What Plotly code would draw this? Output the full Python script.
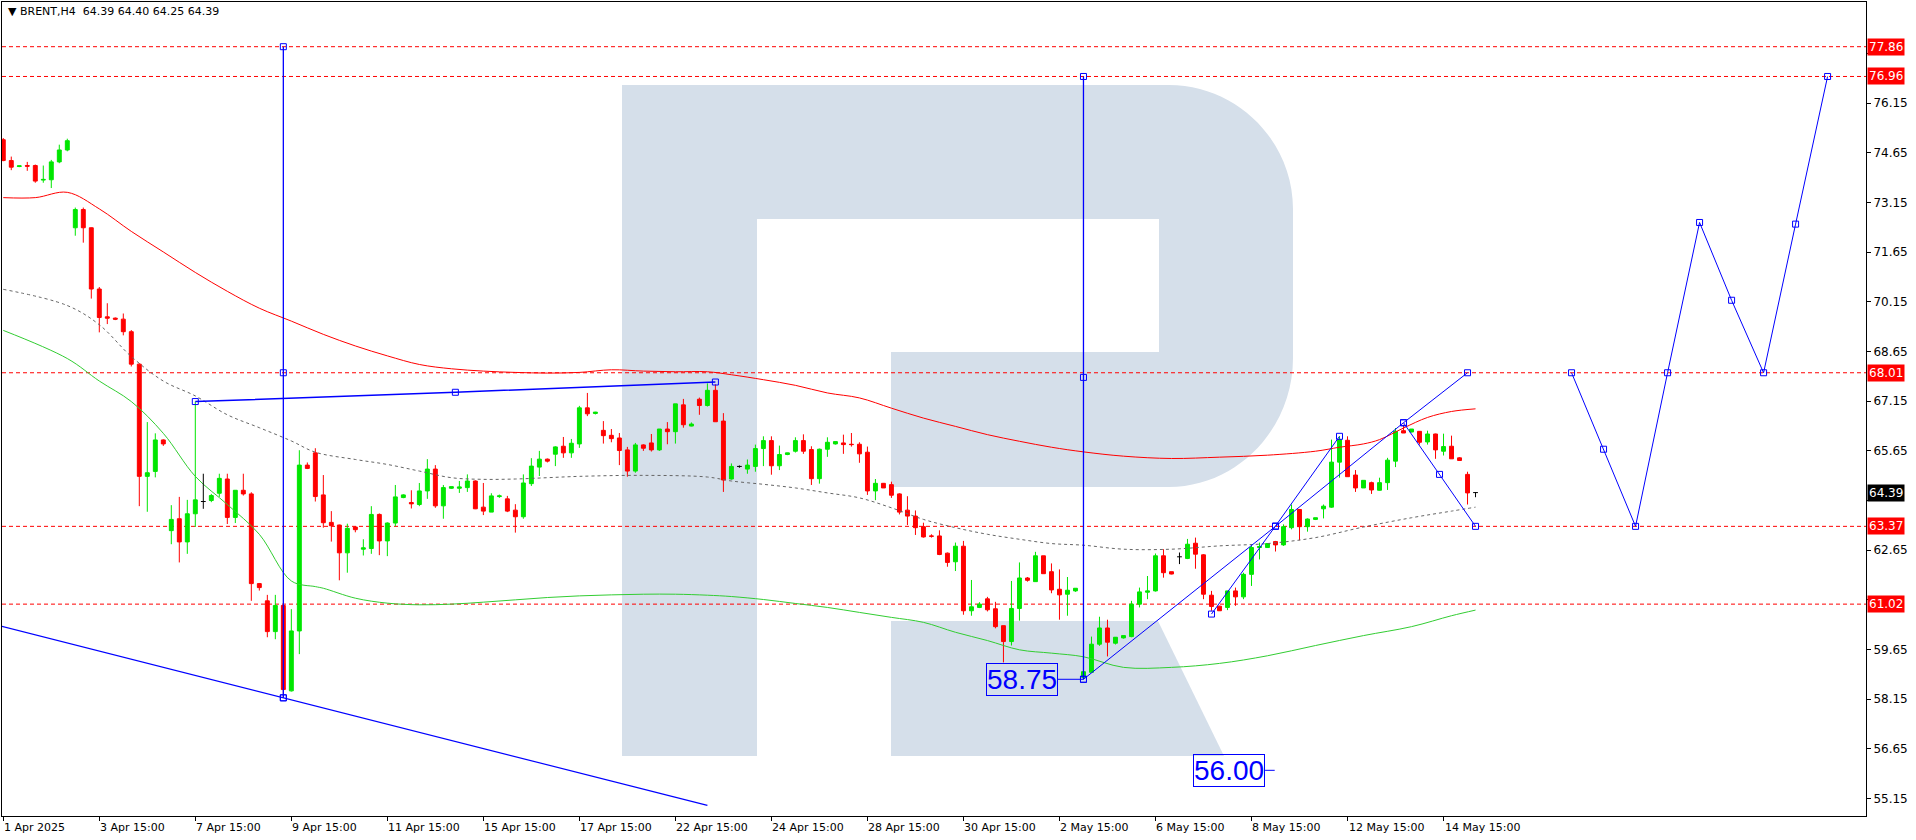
import plotly.graph_objects as go
import math

# ---------------- data ----------------
opens = [75.05,74.42,74.24,74.27,74.27,73.83,73.84,74.38,74.74,72.39,72.94,72.39,70.54,69.70,69.66,69.63,69.25,68.27,64.88,65.03,
65.98,63.24,63.60,62.90,63.75,64.12,64.15,64.37,64.80,63.64,64.46,64.35,61.64,61.12,60.19,60.98,58.40,60.21,65.22,65.59,
64.32,63.49,63.41,62.57,63.35,62.68,62.70,63.73,62.93,63.47,64.24,64.09,64.03,64.44,65.10,63.99,64.52,64.52,64.54,64.74,
63.95,63.80,64.27,64.20,63.86,63.66,64.66,65.16,65.40,65.55,65.79,65.59,65.86,66.95,66.78,66.27,66.12,66.04,65.68,65.04,
65.83,65.89,65.68,66.31,66.23,67.04,66.40,67.21,67.02,67.48,66.55,64.80,65.18,65.10,65.18,65.72,65.96,65.20,65.54,65.64,
65.96,65.69,64.81,65.70,65.86,65.89,65.85,65.85,65.61,64.44,64.67,64.63,64.35,63.86,63.68,63.36,63.08,63.08,62.56,62.30,
62.77,60.82,60.92,61.18,60.88,60.37,59.89,60.89,61.81,61.70,62.48,62.00,61.47,61.32,61.42,58.81,58.96,59.81,60.30,59.84,
60.00,60.04,61.02,61.38,61.42,62.48,62.00,62.45,62.40,62.86,62.51,61.29,60.96,60.92,61.42,61.24,61.92,62.73,62.73,62.91,
62.81,63.33,63.88,63.36,63.58,63.90,63.95,65.31,65.97,64.92,64.53,64.69,64.46,64.69,65.34,66.26,66.22,66.24,65.92,66.16,
65.64,65.79,65.44,64.94,64.39]
highs = [75.10,74.54,74.26,74.38,74.30,74.27,74.44,74.90,75.08,73.00,73.00,72.40,70.60,70.11,69.68,69.80,69.30,68.30,66.52,66.18,
66.00,64.01,64.26,64.17,67.14,64.96,64.35,64.96,64.96,64.46,64.96,64.40,61.66,61.30,61.30,61.00,60.87,65.67,65.30,65.73,
64.92,63.83,63.42,63.45,63.37,62.98,63.98,63.76,63.49,64.62,64.34,64.46,64.68,65.40,65.22,64.62,64.57,64.74,64.94,64.76,
64.68,64.37,64.33,64.29,64.04,64.94,65.43,65.65,65.42,65.79,66.07,66.01,67.01,67.40,66.83,66.55,66.31,66.19,65.77,65.89,
65.85,66.16,66.31,66.52,67.07,67.22,66.51,67.26,67.69,67.66,66.79,65.27,65.21,65.39,65.84,66.09,66.09,65.81,65.57,66.06,
66.15,65.79,65.72,66.06,65.93,66.14,66.19,65.91,65.78,64.80,64.68,64.72,64.37,64.28,63.85,63.48,63.13,63.25,62.58,62.88,
62.93,61.75,61.08,61.24,61.09,60.37,61.72,62.28,61.84,62.60,62.48,62.25,62.07,61.84,61.50,59.00,60.04,60.64,60.55,59.98,
60.07,61.12,61.52,61.87,62.55,62.68,62.00,62.58,62.99,63.03,62.53,61.42,60.97,61.42,61.52,61.97,62.78,62.88,62.85,62.93,
63.43,64.03,63.89,63.61,63.63,64.03,65.99,66.09,66.09,65.07,64.76,64.72,64.84,65.44,66.34,66.44,66.31,66.25,66.26,66.17,
66.17,66.11,65.46,65.02,64.40]
lows = [74.40,74.13,74.22,74.11,73.75,73.75,73.59,74.34,74.70,72.15,71.94,70.25,69.23,69.48,69.60,69.14,68.20,63.98,63.81,64.85,
65.80,62.83,62.28,62.54,63.35,63.90,64.10,64.26,63.44,63.47,64.30,61.12,61.43,60.02,59.96,58.20,58.38,59.51,65.10,64.12,
63.33,62.91,61.74,61.97,63.19,62.49,62.54,62.50,62.47,63.37,64.22,63.91,63.98,64.20,63.93,63.60,64.50,64.38,64.41,63.89,
63.71,63.80,64.23,63.80,63.18,63.60,64.59,64.89,65.30,65.19,65.44,65.44,65.74,66.70,66.75,65.87,65.91,65.22,64.87,64.99,
65.65,65.63,65.65,65.85,65.87,66.35,66.39,66.74,66.99,66.53,64.41,64.78,65.14,64.96,65.02,65.19,64.93,65.07,65.52,65.60,
65.56,64.62,64.66,65.47,65.84,65.56,65.78,65.29,64.32,64.16,64.53,64.23,63.73,63.41,63.11,63.03,63.03,62.50,62.15,62.02,
60.70,60.67,60.90,60.80,60.29,59.26,59.77,60.52,61.70,61.70,61.94,61.35,60.55,60.67,61.39,58.75,58.96,59.76,59.44,59.80,
59.98,60.02,60.92,61.17,61.40,61.82,61.92,62.23,62.38,62.09,61.17,60.82,60.82,60.84,60.97,61.17,61.57,62.37,62.72,62.61,
62.78,63.28,62.95,63.21,63.56,63.61,63.93,64.84,64.87,64.41,64.53,64.35,64.45,64.47,65.16,66.19,66.21,65.84,65.84,65.41,
65.51,65.41,65.35,64.03,64.25]
closes = [74.42,74.22,74.26,74.25,73.80,73.85,74.38,74.74,75.02,72.94,72.39,70.54,69.68,69.66,69.63,69.25,68.27,64.88,64.99,65.98,
65.86,63.58,62.90,63.75,64.17,64.12,64.30,64.82,63.64,64.46,64.35,61.64,61.52,60.19,60.98,58.44,60.21,65.22,65.12,64.27,
63.48,63.39,62.57,63.31,63.27,62.72,63.73,62.93,63.47,64.26,64.32,64.05,64.44,65.10,63.99,64.54,64.57,64.56,64.74,63.90,
63.83,64.29,64.29,63.83,63.66,64.68,65.19,65.40,65.34,65.77,65.59,65.88,66.95,66.77,66.82,66.11,66.02,65.66,65.04,65.83,
65.73,65.68,66.31,66.23,67.07,66.44,66.46,67.02,67.48,66.53,64.77,65.18,65.18,65.22,65.72,65.96,65.20,65.54,65.59,65.96,
65.64,64.81,65.70,65.91,65.93,65.84,65.84,65.56,64.44,64.67,64.53,64.31,63.80,63.68,63.33,63.05,63.07,62.52,62.28,62.77,
60.82,60.94,61.02,60.85,60.34,59.89,60.89,61.81,61.74,62.48,61.94,61.45,61.30,61.44,61.50,58.98,59.81,60.30,59.87,60.02,
60.07,61.02,61.39,61.42,62.48,61.97,61.93,62.45,62.83,62.53,61.32,60.95,60.82,61.42,61.24,61.92,62.73,62.76,62.85,62.81,
63.36,63.88,63.36,63.59,63.63,63.98,65.31,65.99,64.87,64.53,64.76,64.47,64.69,65.37,66.24,66.19,66.31,65.91,66.16,65.68,
65.78,65.41,65.36,64.38,64.39]
bars = list(range(len(closes)))

red_ma_x = [0,4,8,12,16,20,24,28,32,36,40,44,48,52,56,60,64,68,72,76,80,84,88,91,95,99,103,107,111,115,119,123,127,131,135,140,146,152,158,164,167,170,172,175,178,181,184]
red_ma_y = [73.30,73.30,73.46,72.96,72.28,71.66,71.04,70.47,69.96,69.57,69.17,68.82,68.52,68.26,68.13,68.06,68.02,68.00,68.02,68.10,68.06,68.04,68.04,67.95,67.80,67.63,67.40,67.25,66.94,66.64,66.39,66.14,65.94,65.76,65.62,65.49,65.42,65.46,65.52,65.64,65.76,65.86,65.99,66.34,66.66,66.84,66.92]
dot_ma_x = [0,8,12,16,20,24,28,32,36,39,44,48,52,56,60,64,68,72,80,88,91,95,99,103,107,111,115,119,123,127,131,135,140,146,152,158,164,170,176,181,184]
dot_ma_y = [70.53,70.04,69.46,68.50,67.76,67.31,66.74,66.35,65.95,65.61,65.39,65.24,65.04,64.84,64.79,64.80,64.84,64.88,64.91,64.86,64.74,64.64,64.53,64.38,64.23,63.93,63.58,63.33,63.13,62.98,62.85,62.80,62.68,62.68,62.78,62.85,63.03,63.35,63.63,63.83,63.95]
grn_ma_x = [0,8,12,16,20,24,28,32,36,39,40,44,48,52,56,60,64,68,72,76,80,84,88,91,95,99,103,107,111,115,119,123,127,131,135,140,146,152,158,164,170,176,181,184]
grn_ma_y = [69.29,68.44,67.76,67.14,66.18,64.88,64.03,63.13,61.72,61.55,61.50,61.20,61.05,61.00,61.02,61.08,61.15,61.22,61.27,61.30,61.32,61.32,61.29,61.25,61.16,61.04,60.92,60.77,60.62,60.47,60.17,59.92,59.64,59.54,59.43,59.11,59.11,59.23,59.46,59.77,60.07,60.34,60.67,60.84]

levels = [77.86, 76.96, 68.01, 63.37, 61.02]
last_price = 64.39
tick_bars = [0,12,24,36,48,60,72,84,96,108,120,132,144,156,168,180]
tick_labels = ["1 Apr 2025","3 Apr 15:00","7 Apr 15:00","9 Apr 15:00","11 Apr 15:00","15 Apr 15:00","17 Apr 15:00",
               "22 Apr 15:00","24 Apr 15:00","28 Apr 15:00","30 Apr 15:00","2 May 15:00","6 May 15:00","8 May 15:00",
               "12 May 15:00","14 May 15:00"]
price_ticks = [55.15,56.65,58.15,59.65,61.15,62.65,64.15,65.65,67.15,68.65,70.15,71.65,73.15,74.65,76.15,77.65]

# blue drawings
vline1_x = [35, 35, 35]; vline1_y = [77.86, 68.01, 58.19]
trend_low_x = [-0.4, 35, 88]; trend_low_y = [60.36, 58.19, 54.94]
trend_hi_x = [24, 56.5, 89]; trend_hi_y = [67.14, 67.42, 67.73]
vline2_x = [135, 135, 135]; vline2_y = [76.96, 67.87, 58.75]
zigA_x = [135, 159, 175, 183]; zigA_y = [58.75, 63.37, 66.50, 68.01]
zigB_x = [151, 159, 167]; zigB_y = [60.72, 63.38, 66.09]
down_x = [175, 179.5, 184]; down_y = [66.50, 64.94, 63.37]
proj_x = [196, 200, 204, 208, 212, 216, 220, 224, 228]
proj_y = [68.01, 65.70, 63.37, 68.01, 72.55, 70.20, 68.01, 72.50, 76.96]
label_a = 58.75; label_a_bar = 127.3
label_b = 56.00; label_b_bar = 153.2

# ---------------- figure ----------------
W, H = 1916, 840
PL, PR, PT, PB = 2, 1866, 2, 816
fig = go.Figure()

def px(xp, yp):
    return (xp - PL) / (PR - PL), (PB - yp) / (PB - PT)

def path(pts):
    s = ""
    for cmd, coords in pts:
        s += cmd
        s += " ".join("%.5f,%.5f" % px(*c) for c in coords) + " "
    return s + "Z"

logo_col = "rgb(213,223,234)"
bowl = path([("M", [(622, 85)]), ("L", [(1169, 85)]),
             ("C", [(1237, 85), (1293, 141), (1293, 209)]),
             ("L", [(1293, 358)]),
             ("C", [(1293, 429), (1237, 487), (1169, 487)]),
             ("L", [(891, 487)]), ("L", [(891, 352)]), ("L", [(1159, 352)]),
             ("L", [(1159, 219)]), ("L", [(757, 219)]), ("L", [(757, 756)]), ("L", [(622, 756)])])
leg = path([("M", [(891, 621)]), ("L", [(1158, 621)]), ("L", [(1224, 756)]), ("L", [(891, 756)])])
for p in (bowl, leg):
    fig.add_shape(type="path", path=p, xref="paper", yref="paper", fillcolor=logo_col,
                  line=dict(width=0), layer="below")

for lv in levels:
    fig.add_shape(type="line", xref="paper", x0=0, x1=1, y0=lv, y1=lv, yref="y",
                  line=dict(color="#ff0000", width=1, dash="4px,3px"), layer="below")

fig.add_trace(go.Scatter(x=red_ma_x, y=red_ma_y, mode="lines", line=dict(color="#ff0000", width=1, shape="spline"), hoverinfo="skip"))
fig.add_trace(go.Scatter(x=dot_ma_x, y=dot_ma_y, mode="lines", line=dict(color="#666666", width=1, dash="3px,3px", shape="spline"), hoverinfo="skip"))
fig.add_trace(go.Scatter(x=grn_ma_x, y=grn_ma_y, mode="lines", line=dict(color="#32cd32", width=1, shape="spline"), hoverinfo="skip"))

doji = [i for i in bars if abs(opens[i] - closes[i]) < 1e-9]
nan = float("nan")
co = [nan if i in doji else opens[i] for i in bars]
ch = [nan if i in doji else highs[i] for i in bars]
cl = [nan if i in doji else lows[i] for i in bars]
cc = [nan if i in doji else closes[i] for i in bars]
fig.add_trace(go.Candlestick(x=bars, open=co, high=ch, low=cl, close=cc,
                             increasing=dict(line=dict(color="#00e600", width=1), fillcolor="#00e600"),
                             decreasing=dict(line=dict(color="#ff0000", width=1), fillcolor="#ff0000"),
                             whiskerwidth=0, hoverinfo="skip"))
dx, dy = [], []
for i in doji:
    dx += [i, i, None, i - 0.3, i + 0.3, None]
    dy += [lows[i], highs[i], None, opens[i], opens[i], None]
fig.add_trace(go.Scatter(x=dx, y=dy, mode="lines", line=dict(color="black", width=1), hoverinfo="skip"))

blue = "#0000ff"
def bline(xs, ys, width=1, marks=True):
    fig.add_trace(go.Scatter(x=xs, y=ys, mode="lines+markers" if marks else "lines",
                             line=dict(color=blue, width=width),
                             marker=dict(symbol="square-open", size=6, color=blue, line=dict(width=1)),
                             hoverinfo="skip", cliponaxis=True))
bline(trend_low_x, trend_low_y, 1.2, False)
bline(trend_hi_x, trend_hi_y, 1.5)
bline(vline1_x, vline1_y, 1.3)
bline(vline2_x, vline2_y, 1.3)
bline(zigA_x, zigA_y)
bline(zigB_x, zigB_y)
bline(down_x, down_y)
bline(proj_x, proj_y)
fig.add_trace(go.Scatter(x=[trend_low_x[1]], y=[trend_low_y[1]], mode="markers",
                         marker=dict(symbol="square-open", size=6, color=blue), hoverinfo="skip"))

for val, b, anchor_x in ((label_a, label_a_bar, vline2_x[0]), (label_b, label_b_bar, label_b_bar + 5.7)):
    fig.add_annotation(x=b, y=val, text="%.2f" % val, showarrow=False, xref="x", yref="y",
                       font=dict(family="Liberation Sans", size=28, color=blue),
                       bordercolor=blue, borderwidth=1, borderpad=0)
    fig.add_shape(type="line", x0=b + 4.5, x1=anchor_x if anchor_x > b + 5.5 else b + 5.7, y0=val, y1=val,
                  line=dict(color=blue, width=1))

for t, lab in zip(tick_bars, tick_labels):
    fig.add_annotation(x=t, y=0, xref="x", yref="paper", yanchor="top", xanchor="left", yshift=-3, xshift=-1,
                       text=lab, showarrow=False, font=dict(family="DejaVu Sans", size=11, color="black"))

covered = levels + [last_price]
tick_text = ["" if min(abs(v - c) for c in covered) < 0.3 else "%.2f" % v for v in price_ticks]

for lv in levels:
    fig.add_annotation(x=1, xref="paper", y=lv, yref="y", xanchor="left", xshift=1, text="%.2f" % lv,
                       showarrow=False, bgcolor="#ff0000", font=dict(family="DejaVu Sans", size=12, color="white"),
                       borderpad=1)
fig.add_annotation(x=1, xref="paper", y=last_price, yref="y", xanchor="left", xshift=1, text="%.2f" % last_price,
                   showarrow=False, bgcolor="black", font=dict(family="DejaVu Sans", size=12, color="white"),
                   borderpad=1)

fig.add_annotation(x=0, y=1, xref="paper", yref="paper", xanchor="left", yanchor="top", xshift=4, yshift=-1,
                   text="▼ BRENT,H4  64.39 64.40 64.25 64.39", showarrow=False,
                   font=dict(family="DejaVu Sans", size=11, color="black"))

fig.update_layout(
    width=W, height=H, margin=dict(l=PL, r=W - PR, t=PT, b=H - PB),
    paper_bgcolor="white", plot_bgcolor="white", showlegend=False,
    xaxis=dict(range=[-0.16, 232.8], tickvals=tick_bars, ticktext=[""] * len(tick_bars), ticks="outside",
               ticklen=4, tickcolor="black", showgrid=False, zeroline=False, showline=True, linecolor="black",
               mirror=True, rangeslider=dict(visible=False), fixedrange=True),
    yaxis=dict(range=[54.62, 79.21], side="right", tickvals=price_ticks, ticktext=tick_text,
               ticks="outside", ticklen=4, tickcolor="black", showgrid=False, zeroline=False, showline=True,
               linecolor="black", mirror=True, tickfont=dict(family="DejaVu Sans", size=12, color="black")),
)
fig.write_html("out.html", config={"displayModeBar": False},
               post_script="document.body.style.margin='0';document.body.style.overflow='hidden';")
